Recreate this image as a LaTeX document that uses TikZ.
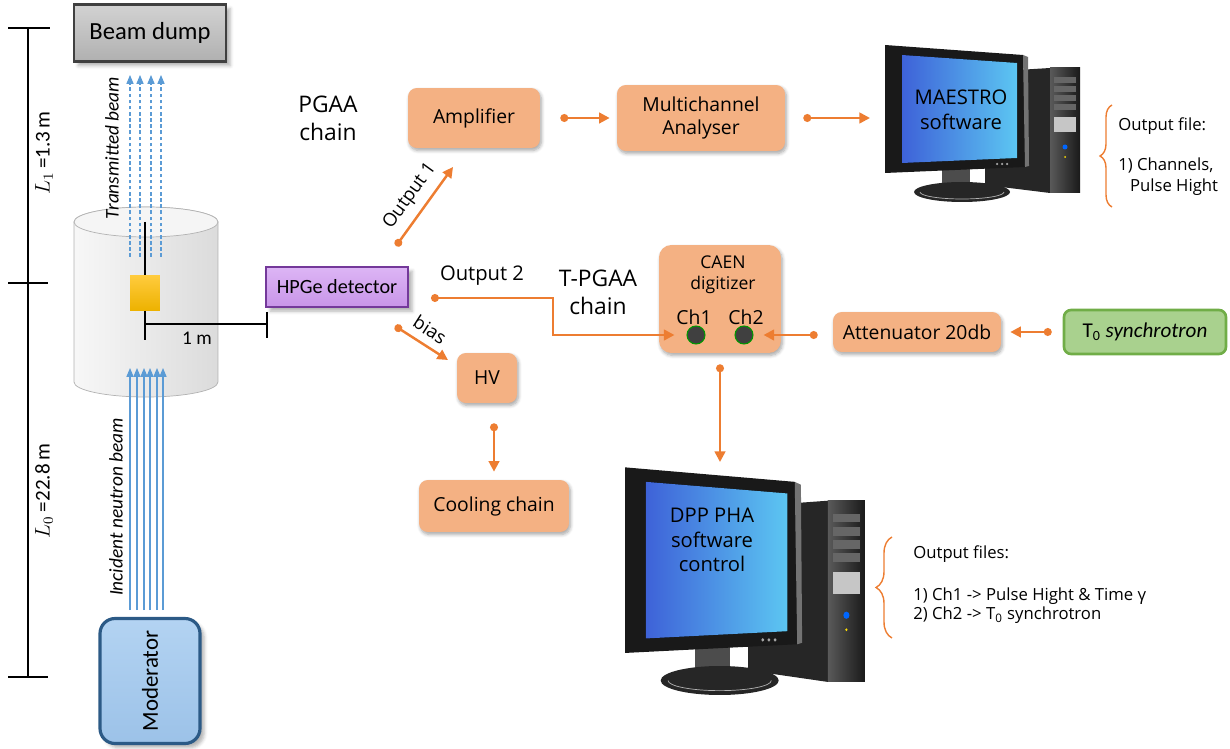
\documentclass[tikz,border=0pt]{standalone}
\usepackage{fontspec}
\setmainfont{Carlito}
\newfontfamily\comic{Open Sans}
\usepackage{tikz}
\usetikzlibrary{arrows.meta, positioning, shadows.blur, decorations.pathreplacing}
\definecolor{unitfill}{HTML}{F4B183}
\definecolor{wire}{HTML}{ED7D31}
\definecolor{beam}{HTML}{5B9BD5}
\definecolor{screenL}{HTML}{3E62D8}
\definecolor{screenR}{HTML}{5CC6F2}
\definecolor{modtop}{HTML}{B3D3F2}
\definecolor{modbot}{HTML}{9CC2E8}
\definecolor{modline}{HTML}{2C5A86}
\definecolor{gemtop}{HTML}{DDB5F5}
\definecolor{gembot}{HTML}{C895E8}
\definecolor{gemline}{HTML}{74399A}
\definecolor{synfill}{HTML}{A9D18E}
\definecolor{synline}{HTML}{70AD47}
\definecolor{goldtop}{HTML}{FFCB3D}
\definecolor{goldbot}{HTML}{EDB200}
\tikzset{
unit/.style={shape=rectangle, rounded corners=5pt, fill=unitfill, align=center, inner sep=0, font=\comic\fontsize{11}{13}\selectfont, blur shadow={shadow xshift=0.8pt, shadow yshift=-1.4pt, shadow blur steps=6, shadow opacity=35}},
wirelink/.style={draw=wire, line width=1.4pt, arrows={Circle[length=4.5pt]-Triangle[length=6pt, width=6pt]}},
chaintext/.style={font=\comic\fontsize{13}{16}\selectfont, align=center},
wiretext/.style={font=\comic\fontsize{10.5}{12}\selectfont},
port/.style={circle, minimum size=0.36cm, inner sep=0, fill=black!75, draw=green!60!black, line width=0.6pt},
screentext/.style={font=\comic\fontsize{11.5}{14}\selectfont, align=center},
filetext/.style={font=\comic\fontsize{9.5}{12}\selectfont, align=left, inner sep=0},
filebrace/.style={draw=wire, line width=0.8pt, decorate, decoration={brace, amplitude=0.24cm}},
beamtext/.style={rotate=90, font=\itshape\fontsize{11}{13}\selectfont},
pc/.pic={
  % tower
  \fill[black!85] (100,30) -- (165,26) -- (165,151) -- (100,143) -- cycle;
  \fill[left color=black!65, right color=black!90] (165,26) rectangle (195,151);
  \foreach \y in {35,44,53,62} \fill[black!60] (169,\y) rectangle (191,\y+6);
  \fill[gray!45] (169,75) rectangle (191,90);
  \fill[blue!60!cyan] (180,105) circle (0.05cm);
  \fill[yellow!80!orange] (180,115) circle (0.02cm);
  % stand
  \fill[black!70] (57,126) rectangle (85,145);
  \fill[black!85] (77,150) ellipse [x radius=0.96cm, y radius=0.2cm];
  \draw[gray!60, line width=0.4pt] (35,150) arc[start angle=180, end angle=360, x radius=0.84cm, y radius=0.14cm];
  % monitor
  \fill[black!90] (0,3) -- (138,13) -- (140,125) -- (0,131) -- cycle;
  \fill[black!55] (138,13) -- (143,15) -- (144,124) -- (140,125) -- cycle;
  \fill[left color=screenL, right color=screenR] (17,13) -- (132,21) -- (132,116) -- (17,121) -- cycle;
  \foreach \x in {112,117,122} \fill[gray!70] (\x,122) circle (0.025cm);
}
}

\begin{document}
\begin{tikzpicture}[x=0.02cm, y=-0.02cm]
\useasboundingbox (0,0) rectangle (1230,749);

% flight path scale
\draw[line width=0.8pt] (8,28) -- (50,28) (28,28) -- (28,677) (8,283) -- (48,283) (8,677) -- (48,677);
\node[rotate=90, font=\fontsize{12}{14}\selectfont] (lone) at (44,153) {$L_1$\,=1.3\,m};
\node[rotate=90, font=\fontsize{12}{14}\selectfont] (lzero) at (44,491) {$L_0$\,=22.8\,m};

% sample chamber
\path[draw=gray!60, left color=gray!6, right color=gray!28] (74,222) -- (74,382) arc[start angle=180, end angle=360, x radius=1.44cm, y radius=0.3cm] -- (218,222) arc[start angle=0, end angle=180, x radius=1.44cm, y radius=0.3cm] -- cycle;
\draw[gray!60, fill=gray!8] (146,222) ellipse [x radius=1.44cm, y radius=0.3cm];
\foreach \x in {130,140,151,161}
  \draw[beam, dash pattern=on 2pt off 1.5pt, line width=0.6pt, -{Triangle[length=5pt, width=4pt]}] (\x,257) -- (\x,75);
\node[minimum width=0.6cm, minimum height=0.7cm, inner sep=0, top color=goldtop, bottom color=goldbot] (sample) at (145,293) {};
\draw[line width=0.9pt] (145,222) -- (sample.north) (sample.south) -- (145,340);
\draw[line width=0.9pt] (145,324) -- (267,324) (267,312) -- (267,338);
\node[font=\fontsize{11}{13}\selectfont] (dist) at (197,338) {1 m};
\foreach \x in {130,137,144,150,157,163}
  \draw[beam, line width=0.6pt, -{Triangle[length=5pt, width=4pt]}] (\x,610) -- (\x,368);

\node[draw=black!75, line width=1.6pt, top color=gray!35, bottom color=gray!62, minimum width=3.04cm, minimum height=1.14cm, font=\fontsize{14}{16}\selectfont, blur shadow={shadow blur steps=4, shadow opacity=30}] (dump) at (150,33) {Beam dump};
\node[rotate=90, draw=modline, line width=1.8pt, rounded corners=0.3cm, top color=modtop, bottom color=modbot, minimum width=2.5cm, minimum height=2cm, font=\fontsize{13}{15}\selectfont, blur shadow={shadow blur steps=4, shadow opacity=30}] (mod) at (150,681) {Moderator};
\node[beamtext] (trans) at (112,148) {Transmitted beam};
\node[beamtext] (inc) at (116,507) {Incident neutron beam};

% detector and its chains
\node[draw=gemline, line width=1.6pt, top color=gemtop, bottom color=gembot, minimum width=2.84cm, minimum height=0.8cm, font=\fontsize{11.5}{13}\selectfont, blur shadow={shadow blur steps=4, shadow opacity=30}] (hpge) at (337,287) {HPGe detector};
\node[chaintext] (pgaa) at (328,118) {PGAA\\chain};
\node[unit, minimum width=2.64cm, minimum height=1.2cm] (amp) at (474,118) {Amplifier};
\node[unit, minimum width=3.36cm, minimum height=1.32cm] (mca) at (701,118) {Multichannel\\Analyser};
\node[unit, minimum width=1.2cm, minimum height=1cm] (hv) at (487,378) {HV};
\node[unit, minimum width=3cm, minimum height=1.04cm] (cool) at (494,506) {Cooling chain};
\node[chaintext] (tpgaa) at (598,292) {T-PGAA\\chain};
\node[unit, rounded corners=7pt, minimum width=2.44cm, minimum height=2.16cm] (caen) at (720,299) {};
\node[font=\comic\fontsize{10}{12}\selectfont, align=center] (caentext) at (723,275) {CAEN\\digitizer};
\node[font=\comic\fontsize{11}{13}\selectfont] (ch1) at (694,317) {Ch1};
\node[font=\comic\fontsize{11}{13}\selectfont] (ch2) at (746,317) {Ch2};
\node[port] (p1) at (696,335) {};
\node[port] (p2) at (744,335) {};
\node[unit, minimum width=3.36cm, minimum height=0.8cm] (att) at (917,332) {Attenuator 20db};
\node[draw=synline, line width=1.5pt, rounded corners=4pt, fill=synfill, minimum width=3.24cm, minimum height=0.88cm, font=\fontsize{12}{14}\selectfont] (tzero) at (1145,332) {T\textsubscript{0} \textit{synchrotron}};

% computers
\pic at (885,42) {pc};
\pic[xscale=1.23, yscale=1.45] at (625,463) {pc};
\node[screentext] (maestro) at (961,110) {MAESTRO\\software};
\node[screentext] (dpp) at (712,540) {DPP PHA\\software\\control};
\coordinate (pcone) at (870,118);
\coordinate (pctwo) at (720,462);

% signal connections
\coordinate (outa) at (396,246);
\coordinate (outb) at (453,167);
\draw[wirelink] (outa) -- node[wiretext, sloped, above=1pt] {Output 1} (outb);
\coordinate (biasa) at (395,326);
\coordinate (biasb) at (448,360);
\draw[wirelink] (biasa) -- node[wiretext, sloped, above=1pt] {bias} (biasb);
\coordinate (outc) at (431,298);
\draw[wirelink, shorten >=0.24cm] (outc) -- ++(122,0) |- (p1.west);
\node[wiretext, font=\comic\fontsize{11.5}{13}\selectfont] (outtwo) at (482,276) {Output 2};
\draw[wirelink, shorten <=0.4cm, shorten >=0.14cm] (amp) -- (mca);
\draw[wirelink, shorten <=0.36cm] (mca) -- (pcone);
\draw[wirelink, shorten <=0.4cm, shorten >=0.16cm] (cool.north |- hv.south) -- (cool.north);
\draw[wirelink, shorten <=0.3cm, shorten >=0.2cm] (att.west |- p2) -- (p2.east);
\draw[wirelink, shorten <=0.22cm, shorten >=0.18cm] (tzero.west) -- (att.east |- tzero.west);
\draw[wirelink, shorten <=0.22cm] (caen.south) -- (pctwo);

% output files
\draw[filebrace] (1112,207) -- (1112,105);
\node[filetext, anchor=west] (fileone) at (1118,157) {Output file:\\[0.38cm]1) Channels,\\\hspace{0.7em}Pulse Hight};
\draw[filebrace, decoration={amplitude=0.32cm}] (892,638) -- (892,537);
\node[filetext, font=\comic\fontsize{9.5}{11}\selectfont, anchor=west] (filetwo) at (913,585) {Output files:\\[0.45cm]1) Ch1 -> Pulse Hight \& Time γ\\2) Ch2 -> T\textsubscript{0} synchrotron};
\end{tikzpicture}
\end{document}
